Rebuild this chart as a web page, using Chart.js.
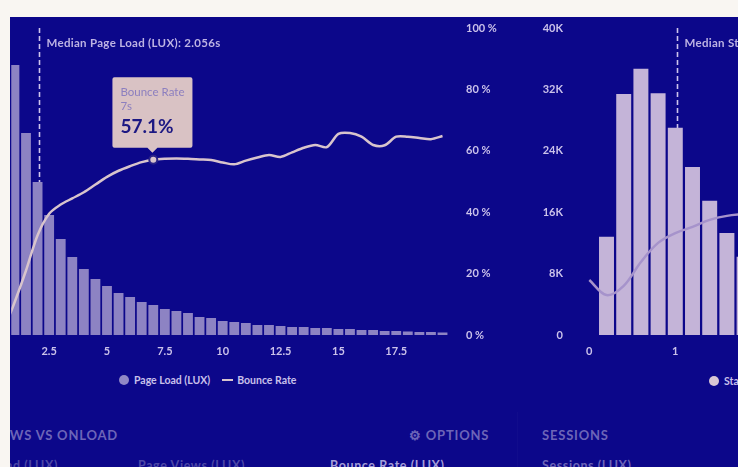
<!DOCTYPE html>
<html>
<head>
<meta charset="utf-8">
<script src="https://cdn.jsdelivr.net/npm/chart.js@4.4.0/dist/chart.umd.min.js"></script>
<style>
  html, body { margin: 0; padding: 0; width: 738px; height: 467px; overflow: hidden; background: #f9f6f2; }
  body { font-family: Lato, "Open Sans", sans-serif; }
  #panel { position: absolute; left: 10px; top: 17px; width: 728px; height: 450px; background: #0c078a; overflow: hidden; }
  #loadWrap { position: absolute; left: 0; top: 0; width: 510px; height: 353px; }
  #startWrap { position: absolute; left: 520px; top: 0; width: 208px; height: 353px; }
  .legend { position: absolute; font-weight: 700; font-size: 10.5px; color: #c9c0ea; white-space: nowrap; line-height: 14px; }
  .dot { display: inline-block; width: 10px; height: 10px; border-radius: 50%; vertical-align: -1px; margin-right: 5px; }
  .dash { display: inline-block; width: 11px; height: 2px; vertical-align: 3px; margin: 0 4px 0 12px; background: #d8c4cc; }
  .head { position: absolute; top: 410px; font-weight: 700; font-size: 13px; color: #6d65b8; letter-spacing: 0.8px; white-space: nowrap; }
  .col { position: absolute; top: 441px; font-weight: 700; font-size: 12.5px; color: #4d47a6; letter-spacing: 0.6px; white-space: nowrap; }
  #sep { position: absolute; left: 507px; top: 395px; width: 1px; height: 55px; background: rgba(255,255,255,0.025); }
</style>
</head>
<body>
<div id="panel">
  <div id="loadWrap"><canvas id="loadChart"></canvas></div>
  <div id="startWrap"><canvas id="startChart"></canvas></div>

  <div class="legend" style="left:109px; top:356px;"><span class="dot" style="background:#9188c6"></span>Page Load (LUX)<span class="dash"></span>Bounce Rate</div>
  <div class="legend" style="left:699px; top:357px;"><span class="dot" style="background:#d9c7d5"></span>Start Render (LUX)</div>

  <div id="sep"></div>
  <div class="head" style="right:620px;">PAGE VIEWS VS ONLOAD</div>
  <div class="head" style="left:399px;">⚙&nbsp;OPTIONS</div>
  <div class="head" style="left:532px;">SESSIONS</div>

  <div class="col" style="right:680px;">Page Load (LUX)</div>
  <div class="col" style="left:128px;">Page Views (LUX)</div>
  <div class="col" style="left:320px; color:#a59ed8;">Bounce Rate (LUX)</div>
  <div class="col" style="left:532px; color:#6d65b8;">Sessions (LUX)</div>
</div>

<script>
// left chart: page load histogram, 0.5 s bins
const loadBins = [1, 1.5, 2, 2.5, 3, 3.5, 4, 4.5, 5, 5.5, 6, 6.5, 7, 7.5, 8, 8.5, 9, 9.5, 10,
  10.5, 11, 11.5, 12, 12.5, 13, 13.5, 14, 14.5, 15, 15.5, 16, 16.5, 17, 17.5, 18, 18.5, 19, 19.5];
const pageLoadCounts = [2700, 2020, 1530, 1200, 960, 780, 660, 560, 490, 420, 380, 330, 300, 260, 240, 220, 180, 170, 140,
  130, 120, 100, 100, 90, 80, 80, 70, 70, 60, 60, 50, 50, 40, 40, 35, 30, 30, 25];

const bounceBins = [0.5, 1, 1.5, 2, 2.5, 3, 3.5, 4, 4.5, 5, 5.5, 6, 6.5, 7, 7.5, 8, 8.5, 9, 9.5, 10,
  10.5, 11, 11.5, 12, 12.5, 13, 13.5, 14, 14.5, 15, 15.5, 16, 16.5, 17, 17.5, 18, 18.5, 19, 19.5];
const bounceRate = [1, 10.5, 21, 32.5, 39.5, 42.5, 44.5, 46.5, 49, 51.5, 53.5, 55, 56.3, 57.1, 57.4, 57.5, 57.4, 57.2, 57, 56.2,
  55.6, 56.8, 57.8, 58.6, 58, 59.5, 61, 61.9, 61.2, 65.5, 65.8, 64.6, 61.9, 61.8, 64.6, 64.6, 64.2, 63.8, 64.8];

const loadTicks = [2.5, 5, 7.5, 10, 12.5, 15, 17.5];
const rateTicks = [0, 20, 40, 60, 80, 100];
const medianLoad = 2.056;
const tooltipAt = 7;

// right chart: start render histogram, 0.2 s bins
const startBins = [0.2, 0.4, 0.6, 0.8, 1, 1.2, 1.4, 1.6, 1.8];
const startCounts = [12800, 31400, 34700, 31500, 27000, 21900, 17500, 13300, 10200];
const startRateBins = [0, 0.2, 0.4, 0.6, 0.8, 1, 1.2, 1.4, 1.6, 1.8];
const startRate = [17.9, 13, 16, 23.8, 30, 33.2, 35.2, 37.5, 38.8, 39.4];
const startTicks = [0, 1];
const countTicks = [0, 8000, 16000, 24000, 32000, 40000];
const medianStart = 1.02;

Chart.defaults.font.family = 'Lato, "Open Sans", sans-serif';
Chart.defaults.animation = false;

const tickColor = '#cbc2ea';
const tickFont = { size: 11, weight: 'bold' };

function fixedTicks(values) {
  return function (scale) { scale.ticks = values.map(v => ({ value: v })); };
}

// vertical axes: fixed width, and no extra room above/below for the labels
function fitVertical(width) {
  return function (scale) {
    scale.width = width;
    scale.paddingTop = 0;
    scale.paddingBottom = 0;
  };
}

function medianPlugin(value, text) {
  return {
    id: 'median',
    beforeDatasetsDraw(chart) {
      const { ctx, chartArea, scales } = chart;
      const x = Math.round(scales.x.getPixelForValue(value)) + 0.5;
      ctx.save();
      ctx.strokeStyle = '#cdc4ec';
      ctx.lineWidth = 1.6;
      ctx.setLineDash([5, 3]);
      ctx.beginPath();
      ctx.moveTo(x, chartArea.top);
      ctx.lineTo(x, chartArea.bottom);
      ctx.stroke();
      ctx.fillStyle = '#bdb3e3';
      ctx.font = 'bold 11.5px Lato, "Open Sans", sans-serif';
      ctx.letterSpacing = '0.3px';
      ctx.textBaseline = 'middle';
      ctx.fillText(text, x + 7, chartArea.top + 15);
      ctx.restore();
    }
  };
}

const loadChart = new Chart(document.getElementById('loadChart'), {
  data: {
    datasets: [{
      type: 'bar',
      label: 'Page Load (LUX)',
      data: loadBins.map((b, i) => ({ x: b, y: pageLoadCounts[i] })),
      backgroundColor: '#8d83c3',
      barPercentage: 0.85,
      categoryPercentage: 1,
      yAxisID: 'y',
      order: 2
    }, {
      type: 'line',
      label: 'Bounce Rate',
      data: bounceBins.map((b, i) => ({ x: b, y: bounceRate[i] })),
      borderColor: '#d8c4cc',
      borderWidth: 2.5,
      pointRadius: 0,
      pointHoverRadius: 4,
      pointHoverBorderWidth: 2,
      pointHoverBackgroundColor: '#d8c4cc',
      pointHoverBorderColor: '#2a2388',
      tension: 0.3,
      yAxisID: 'rate',
      order: 1
    }]
  },
  options: {
    responsive: true,
    maintainAspectRatio: false,
    events: [],
    layout: { padding: { top: 11 } },
    scales: {
      x: {
        type: 'linear',
        offset: false,
        min: 0.862,
        max: 19.78,
        grid: { display: false, drawTicks: false },
        border: { display: false },
        afterBuildTicks: fixedTicks(loadTicks),
        afterFit(scale) { scale.height = 35; },
        ticks: { color: tickColor, font: tickFont, padding: 10, maxRotation: 0 }
      },
      y: {
        display: false,
        min: 0,
        max: 3070
      },
      rate: {
        axis: 'y',
        position: 'right',
        min: 0,
        max: 100,
        grid: { display: false, drawTicks: false },
        border: { display: false },
        afterBuildTicks: fixedTicks(rateTicks),
        afterFit: fitVertical(71),
        ticks: { color: tickColor, font: tickFont, padding: 17, callback: v => v + ' %' }
      }
    },
    plugins: {
      legend: { display: false },
      tooltip: {
        enabled: true,
        backgroundColor: '#d9c2c4',
        titleColor: '#8c7fbf',
        titleFont: { size: 11.5, weight: 'normal' },
        titleSpacing: 0,
        titleMarginBottom: 3,
        bodyColor: '#1c1883',
        bodyFont: { size: 19, weight: 'bold' },
        padding: { top: 8, bottom: 9, left: 8, right: 8 },
        cornerRadius: 2,
        caretSize: 5,
        caretPadding: 7,
        displayColors: false,
        xAlign: 'center',
        yAlign: 'bottom',
        callbacks: {
          title: items => [items[0].dataset.label, items[0].parsed.x + 's'],
          label: item => item.parsed.y.toFixed(1) + '%'
        }
      }
    }
  },
  plugins: [medianPlugin(medianLoad, 'Median Page Load (LUX): ' + medianLoad + 's')]
});

const tipIndex = bounceBins.indexOf(tooltipAt);
const active = [{ datasetIndex: 1, index: tipIndex }];
loadChart.setActiveElements(active);
loadChart.tooltip.setActiveElements(active, { x: 0, y: 0 });
loadChart.update();

new Chart(document.getElementById('startChart'), {
  data: {
    datasets: [{
      type: 'bar',
      label: 'Start Render (LUX)',
      data: startBins.map((b, i) => ({ x: b, y: startCounts[i] })),
      backgroundColor: '#c4b4d8',
      barPercentage: 0.87,
      categoryPercentage: 1,
      yAxisID: 'y',
      order: 2
    }, {
      type: 'line',
      label: 'Bounce Rate',
      data: startRateBins.map((b, i) => ({ x: b, y: startRate[i] })),
      borderColor: '#a693cb',
      borderWidth: 2.5,
      pointRadius: 0,
      tension: 0.35,
      yAxisID: 'rate',
      order: 1
    }]
  },
  options: {
    responsive: true,
    maintainAspectRatio: false,
    events: [],
    layout: { padding: { top: 11 } },
    scales: {
      x: {
        type: 'linear',
        offset: false,
        min: -0.05,
        max: 1.729,
        grid: { display: false, drawTicks: false },
        border: { display: false },
        afterBuildTicks: fixedTicks(startTicks),
        afterFit(scale) { scale.height = 35; },
        ticks: { color: tickColor, font: tickFont, padding: 10, maxRotation: 0 }
      },
      y: {
        position: 'left',
        min: 0,
        max: 40000,
        grid: { display: false, drawTicks: false },
        border: { display: false },
        afterBuildTicks: fixedTicks(countTicks),
        afterFit: fitVertical(55),
        ticks: { color: tickColor, font: tickFont, padding: 22, callback: v => v === 0 ? '0' : (v / 1000) + 'K' }
      },
      rate: {
        axis: 'y',
        position: 'right',
        display: false,
        min: 0,
        max: 100
      }
    },
    plugins: {
      legend: { display: false },
      tooltip: { enabled: false }
    }
  },
  plugins: [medianPlugin(medianStart, 'Median Start Render (LUX): ' + medianStart + 's')]
});
</script>
</body>
</html>
